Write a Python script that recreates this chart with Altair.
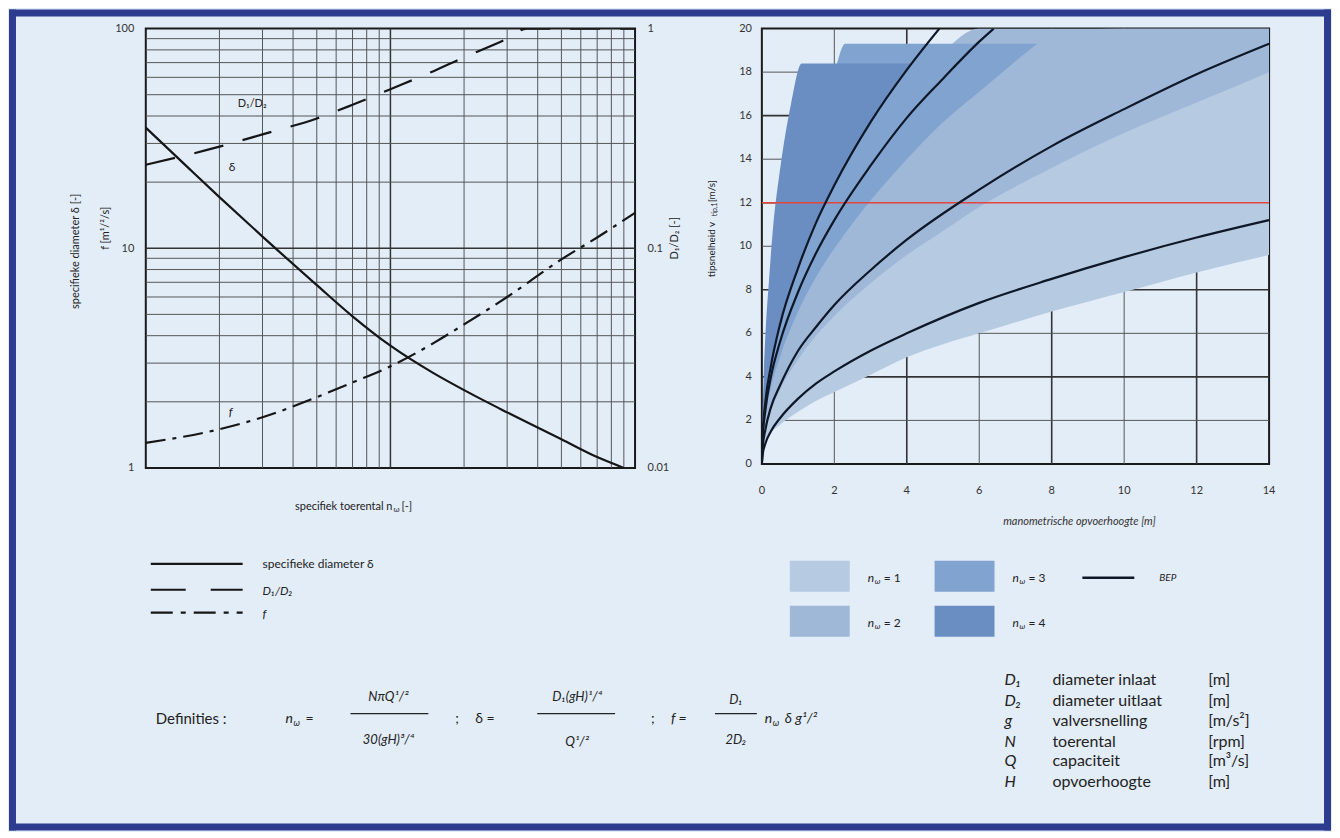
import altair as alt
import pandas as pd

FONT = "Lato"
INK = "#222222"
BG = "#E3EDF8"
NAVY = "#2D3C8E"
LINE = "#161616"
RED = "#E4453C"

# ---------------- left diagram: specific diameter, D1/D2 and f vs specific speed ----------------
delta_n = [0.1, 0.15, 0.2, 0.3, 0.5, 0.7, 1.0, 1.5, 2.0, 3.0, 5.0, 7.0, 9.0]
delta_v = [35.4, 23.1, 17.1, 11.3, 6.8, 4.9, 3.6, 2.7, 2.26, 1.79, 1.35, 1.12, 1.0]
f_n = [0.1, 0.2, 0.3, 0.5, 0.7, 1.0, 1.5, 2.0, 3.0, 5.0, 7.0, 10.0]
f_v = [1.3, 1.5, 1.7, 2.1, 2.45, 2.9, 3.7, 4.5, 6.0, 8.9, 11.2, 14.5]
d12_n = [0.1, 0.2, 0.3, 0.5, 0.7, 1.0, 1.5, 2.0, 3.0, 3.6, 10.0]
d12_v = [0.24, 0.29, 0.33, 0.39, 0.45, 0.53, 0.64, 0.74, 0.9, 1.0, 1.0]

left_x_ticks = [0.1, 1, 10]
left_y_ticks = [1, 10, 100]
right_y_ticks = [0.01, 0.1, 1]
left_x_grid_minor = [0.2, 0.3, 0.4, 0.5, 0.6, 0.7, 0.8, 0.9, 2, 3, 4, 5, 6, 7, 8, 9]
left_x_grid_major = [1]
left_y_grid_minor = [2, 3, 4, 5, 6, 7, 8, 9, 20, 30, 40, 50, 60, 70, 80, 90]
left_y_grid_major = [10]

# ---------------- right diagram: tip speed vs head ----------------
H_ticks = [0, 2, 4, 6, 8, 10, 12, 14]
v_ticks = [0, 2, 4, 6, 8, 10, 12, 14, 16, 18, 20]
r_grid_x_major = [4, 8, 12]
r_grid_x_minor = [2, 6, 10]
r_grid_y_major = [4, 8, 12, 16]
r_grid_y_minor = [2, 6, 10, 14, 18]
red_line_v = [12]

bep1_H = [0, 0.02, 0.1, 0.25, 0.5, 1, 1.5, 2, 3, 4, 6, 8, 10, 12, 14]
bep1_v = [0, 0.42, 0.95, 1.5, 2.1, 3.0, 3.7, 4.25, 5.2, 6.0, 7.4, 8.5, 9.5, 10.4, 11.2]
bep2_H = [0, 0.02, 0.1, 0.25, 0.5, 1, 1.5, 2, 3, 4, 6, 8, 10, 12, 14]
bep2_v = [0, 0.73, 1.6, 2.6, 3.6, 5.2, 6.3, 7.3, 8.9, 10.3, 12.6, 14.6, 16.3, 17.9, 19.3]
bep3_H = [0, 0.02, 0.1, 0.25, 0.5, 1, 1.5, 2, 3, 4, 5, 6, 6.4]
bep3_v = [0, 1.1, 2.5, 4.0, 5.6, 7.9, 9.7, 11.2, 13.7, 15.9, 17.7, 19.4, 20]
bep4_H = [0, 0.02, 0.1, 0.25, 0.5, 1, 1.5, 2, 3, 4, 4.9]
bep4_v = [0, 1.3, 2.9, 4.5, 6.4, 9.0, 11.1, 12.8, 15.7, 18.1, 20]

band1_H = [0, 0.02, 0.1, 0.25, 0.5, 1, 1.5, 2, 3, 4, 5, 6, 8, 10, 12, 14]
band1_lo = [0, 0.3, 0.9, 1.4, 1.8, 2.4, 2.9, 3.3, 4.1, 4.9, 5.5, 6.0, 7.0, 7.9, 8.8, 9.6]
band1_hi = [0, 1.0, 2.2, 3.5, 4.9, 7.0, 8.6, 9.9, 12.1, 14.0, 15.7, 17.1, 19.8, 20, 20, 20]
band2_H = [0, 0.02, 0.1, 0.25, 0.5, 1, 1.5, 2, 3, 4, 5, 6, 8, 10, 12, 14]
band2_lo = [0, 0.68, 1.5, 2.4, 3.4, 4.8, 5.9, 6.8, 8.3, 9.6, 10.7, 11.8, 13.6, 15.2, 16.6, 18.0]
band2_hi = [0, 1.2, 2.7, 4.2, 6.0, 8.45, 10.3, 12.0, 14.6, 16.9, 18.9, 20, 20, 20, 20, 20]
band3_H = [0, 0.02, 0.1, 0.25, 0.5, 1, 1.5, 2, 2.3, 3, 4, 5, 6, 7, 7.6]
band3_lo = [0, 1.0, 2.2, 3.5, 4.9, 7.0, 8.6, 9.9, 10.6, 12.1, 14.0, 15.7, 17.1, 18.5, 19.3]
band3_hi = [0, 1.8, 4.0, 6.35, 9.0, 12.7, 15.6, 18.0, 19.3, 19.3, 19.3, 19.3, 19.3, 19.3, 19.3]
band4_H = [0, 0.02, 0.05, 0.1, 0.2, 0.3, 0.5, 0.8, 1.1, 2, 3, 4.14]
band4_lo = [0, 1.3, 2.0, 2.9, 4.0, 4.95, 6.4, 8.1, 9.5, 12.8, 15.7, 18.4]
band4_hi = [0, 2.0, 4.0, 6.0, 8.5, 10.7, 13.5, 16.5, 18.4, 18.4, 18.4, 18.4]
band_colors = ["#B6CAE2", "#9FB8D8", "#81A3CF", "#6A8EC2"]
band_labels = ["1", "2", "3", "4"]

def_symbols = ["D\u2081", "D\u2082", "g", "N", "Q", "H"]
def_texts = ["diameter inlaat", "diameter uitlaat", "valversnelling", "toerental", "capaciteit", "opvoerhoogte"]
def_units = ["[m]", "[m]", "[m/s\u00b2]", "[rpm]", "[m\u00b3/s]", "[m]"]

# ---------------- helpers ----------------
ONE = pd.DataFrame({"k": [0]})


def txt(x, y, s, size=12, align="left", angle=0, style="normal", weight="normal", color=INK):
    kw = dict(text=s, fontSize=size, align=align, baseline="middle", font=FONT,
              color=color, fontStyle=style, fontWeight=weight)
    if angle:
        kw["angle"] = angle
    return alt.Chart(ONE).mark_text(**kw).encode(x=alt.value(x), y=alt.value(y))


def seg(x1, x2, y, width=1.5, dash=None, color=INK):
    kw = dict(color=color, strokeWidth=width)
    if dash:
        kw["strokeDash"] = dash
    return alt.Chart(ONE).mark_rule(**kw).encode(x=alt.value(x1), x2=alt.value(x2), y=alt.value(y))


def box(x1, x2, y1, y2, color):
    return alt.Chart(ONE).mark_rect(color=color).encode(
        x=alt.value(x1), x2=alt.value(x2), y=alt.value(y1), y2=alt.value(y2))


lab = dict(labelFont=FONT, labelFontSize=11, labelColor="#333333", title=None,
           grid=False, ticks=False, domain=False)

# ---------------- left chart ----------------
W_L, H_L = 490, 440
xs_l = alt.Scale(type="log", domain=[0.1, 10], nice=False)
ys_l = alt.Scale(type="log", domain=[1, 100], nice=False)
ys_r = alt.Scale(type="log", domain=[0.01, 1], nice=False)

ax_x_l = alt.Axis(values=left_x_ticks, format="~g", labelPadding=17, **lab)
ax_y_l = alt.Axis(values=left_y_ticks, format="~g", labelPadding=12, orient="left", **lab)
ax_y_r = alt.Axis(values=right_y_ticks, format="~g", labelPadding=12, orient="right", **lab)


def vgrid_log(vals, width, color):
    return alt.Chart(pd.DataFrame({"g": vals})).mark_rule(color=color, strokeWidth=width).encode(
        x=alt.X("g:Q", scale=xs_l, axis=None))


def hgrid_log(vals, width, color):
    return alt.Chart(pd.DataFrame({"g": vals})).mark_rule(color=color, strokeWidth=width).encode(
        y=alt.Y("g:Q", scale=ys_l, axis=None))


delta_line = alt.Chart(pd.DataFrame({"n": delta_n, "v": delta_v})).mark_line(
    color=LINE, strokeWidth=2.2, interpolate="monotone", clip=True).encode(
    x=alt.X("n:Q", scale=xs_l, axis=ax_x_l), y=alt.Y("v:Q", scale=ys_l, axis=ax_y_l))
f_line = alt.Chart(pd.DataFrame({"n": f_n, "v": f_v})).mark_line(
    color=LINE, strokeWidth=2.2, strokeDash=[20, 7, 4, 7], interpolate="monotone", clip=True).encode(
    x=alt.X("n:Q", scale=xs_l, axis=None), y=alt.Y("v:Q", scale=ys_l, axis=None))
d12_line = alt.Chart(pd.DataFrame({"n": d12_n, "v": d12_v})).mark_line(
    color=LINE, strokeWidth=2.2, strokeDash=[30, 20], interpolate="monotone", clip=True).encode(
    x=alt.X("n:Q", scale=xs_l, axis=None), y=alt.Y("v:Q", scale=ys_r, axis=ax_y_r))

left_layers = [
    # outer frame of the figure
    box(-137, 1187, -19, -12, NAVY), box(-137, 1187, 796, 803, NAVY),
    box(-137, -130, -19, 803, NAVY), box(1180, 1187, -19, 803, NAVY),
    vgrid_log(left_x_grid_minor, 1, "#555555"), vgrid_log(left_x_grid_major, 1.5, "#333333"),
    hgrid_log(left_y_grid_minor, 1, "#555555"), hgrid_log(left_y_grid_major, 1.5, "#333333"),
    delta_line, f_line, d12_line,
    # axis titles
    txt(-70, 223, "specifieke diameter \u03b4 [-]", 11, align="center", angle=270),
    txt(-40, 200, "f [m\u00b9/\u00b2/s]", 11, align="center", angle=270),
    txt(530, 210, "D\u2081/D\u2082 [-]", 11, align="center", angle=270),
    txt(247, 479, "specifiek toerental n", 11, align="right"),
    txt(248, 482, "\u03c9", 8),
    txt(256, 479, "[-]", 11),
    # curve labels
    txt(92, 76, "D\u2081/D\u2082", 11),
    txt(83, 139, "\u03b4", 12),
    txt(83, 384, "f", 12, style="italic"),
    # legend
    seg(5, 97, 536, 2.2, None, LINE), txt(117, 536, "specifieke diameter \u03b4", 12),
    seg(5, 97, 562, 2.2, [35, 25], LINE), txt(117, 563, "D\u2081/D\u2082", 12, style="italic"),
    seg(5, 97, 585, 2.2, [22, 8, 5, 8], LINE), txt(117, 586, "f", 12, style="italic"),
    # definitions formula
    txt(10, 691, "Definities :", 15),
    txt(140, 691, "n", 14, style="italic"), txt(148, 695, "\u03c9", 9, style="italic"),
    txt(160, 691, "=", 14),
    txt(243, 669, "N\u03c0Q\u00b9/\u00b2", 13, align="center", style="italic"),
    seg(205, 283, 686, 1.3),
    txt(243, 712, "30(gH)\u00b3/\u2074", 13, align="center", style="italic"),
    txt(310, 691, ";", 14),
    txt(330, 691, "\u03b4  =", 14),
    txt(432, 669, "D\u2081(gH)\u00b9/\u2074", 13, align="center", style="italic"),
    seg(392, 470, 686, 1.3),
    txt(432, 714, "Q\u00b9/\u00b2", 13, align="center", style="italic"),
    txt(506, 691, ";", 14),
    txt(526, 691, "f  =", 14, style="italic"),
    txt(591, 672, "D\u2081", 13, align="center", style="italic"),
    seg(570, 612, 686, 1.3),
    txt(591, 712, "2D\u2082", 13, align="center", style="italic"),
    txt(620, 691, "n", 14, style="italic"), txt(628, 695, "\u03c9", 9, style="italic"),
    txt(640, 691, "\u03b4 g\u00b9/\u00b2", 14, style="italic"),
]
left = alt.layer(*left_layers).resolve_scale(y="independent").properties(width=W_L, height=H_L)

# ---------------- right chart ----------------
W_R, H_R = 508, 436
xs_h = alt.Scale(domain=[0, 14], nice=False, zero=False)
ys_v = alt.Scale(domain=[0, 20], nice=False, zero=False)


def vgrid(vals, width, color):
    return alt.Chart(pd.DataFrame({"g": vals})).mark_rule(color=color, strokeWidth=width).encode(
        x=alt.X("g:Q", scale=xs_h, axis=None))


def hgrid(vals, width, color):
    return alt.Chart(pd.DataFrame({"g": vals})).mark_rule(color=color, strokeWidth=width).encode(
        y=alt.Y("g:Q", scale=ys_v, axis=None))


def band(H, lo, hi, color):
    return alt.Chart(pd.DataFrame({"H": H, "lo": lo, "hi": hi})).mark_area(
        color=color, opacity=1, interpolate="monotone", clip=True).encode(
        x=alt.X("H:Q", scale=xs_h, axis=None), y=alt.Y("lo:Q", scale=ys_v, axis=None), y2="hi:Q")


bep = pd.concat([
    pd.DataFrame({"H": bep1_H, "v": bep1_v, "c": "1"}),
    pd.DataFrame({"H": bep2_H, "v": bep2_v, "c": "2"}),
    pd.DataFrame({"H": bep3_H, "v": bep3_v, "c": "3"}),
    pd.DataFrame({"H": bep4_H, "v": bep4_v, "c": "4"}),
])
bep_lines = alt.Chart(bep).mark_line(color="#0E1828", strokeWidth=2.2, interpolate="monotone", clip=True).encode(
    x=alt.X("H:Q", scale=xs_h, axis=None), y=alt.Y("v:Q", scale=ys_v, axis=None), detail="c:N")
red = alt.Chart(pd.DataFrame({"v": red_line_v})).mark_rule(color=RED, strokeWidth=1.6).encode(
    y=alt.Y("v:Q", scale=ys_v, axis=None))

# tick labels drawn through the scales
xlab_r = alt.Chart(pd.DataFrame({"t": H_ticks})).mark_text(
    font=FONT, fontSize=11, color="#333333", baseline="middle", align="center").encode(
    x=alt.X("t:Q", scale=xs_h, axis=None), y=alt.value(463), text="t:Q")
ylab_r = alt.Chart(pd.DataFrame({"t": v_ticks})).mark_text(
    font=FONT, fontSize=11, color="#333333", baseline="middle", align="right").encode(
    y=alt.Y("t:Q", scale=ys_v, axis=None), x=alt.value(-10), text="t:Q")

legend_x = [28, 28, 173, 173]
legend_y = [533, 578, 533, 578]
legend_layers = []
for lx, ly, col, lb in zip(legend_x, legend_y, band_colors, band_labels):
    legend_layers += [
        box(lx, lx + 60, ly, ly + 31, col),
        txt(lx + 78, ly + 17, "n", 12, style="italic"),
        txt(lx + 85, ly + 21, "\u03c9", 8, style="italic"),
        txt(lx + 94, ly + 17, "= " + lb, 12),
    ]

def_rows_y = [652, 673, 693, 714, 734, 755]
def_layers = []
for ry, s, d, u in zip(def_rows_y, def_symbols, def_texts, def_units):
    def_layers += [txt(243, ry, s, 16, style="italic"), txt(291, ry, d, 16), txt(447, ry, u, 16)]

right_layers = [
    vgrid(r_grid_x_minor, 1, "#555555"), vgrid(r_grid_x_major, 1.6, "#333333"),
    hgrid(r_grid_y_minor, 1, "#555555"), hgrid(r_grid_y_major, 1.6, "#333333"),
    band(band1_H, band1_lo, band1_hi, band_colors[0]),
    band(band2_H, band2_lo, band2_hi, band_colors[1]),
    band(band3_H, band3_lo, band3_hi, band_colors[2]),
    band(band4_H, band4_lo, band4_hi, band_colors[3]),
    red, bep_lines, xlab_r, ylab_r,
    # axis titles
    txt(-50, 249, "tipsnelheid v", 10, angle=270),
    txt(-47, 188, "tip,1", 7, angle=270),
    txt(-50, 174, " [m/s]", 10, angle=270),
    txt(318, 494, "manometrische opvoerhoogte [m]", 11, align="center", style="italic", color="#333333"),
    # legend
    *legend_layers,
    seg(321, 373, 550, 2.5, None, "#0E1828"),
    txt(398, 550, "BEP", 10, style="italic"),
    *def_layers,
]
right = alt.layer(*right_layers).properties(width=W_R, height=H_R)

chart = alt.hconcat(left, right, spacing=127, bounds="flush").properties(
    background=BG, padding=0
).configure_view(stroke="#1A1A1A", strokeWidth=2)

chart.save("out.html", embed_options={"renderer": "svg", "actions": False})
